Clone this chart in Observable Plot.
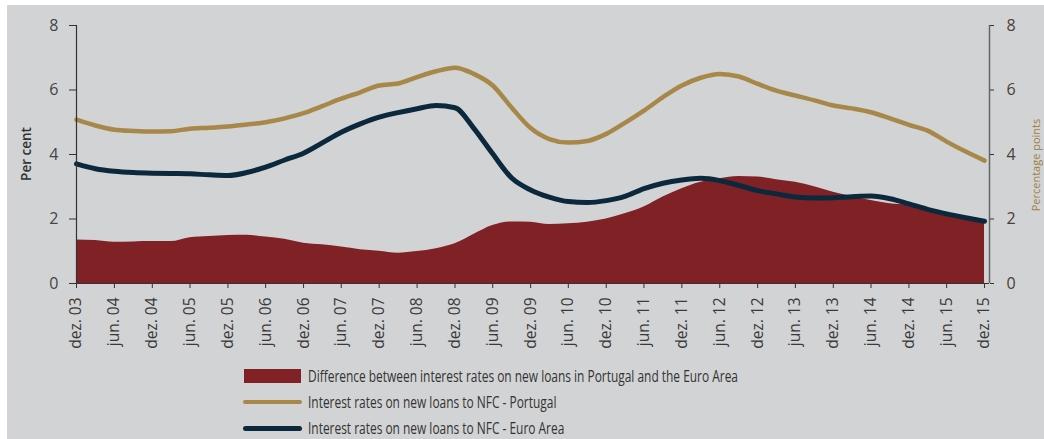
<!DOCTYPE html>
<html><head><meta charset="utf-8">
<script src="https://cdn.jsdelivr.net/npm/d3@7"></script>
<script src="https://cdn.jsdelivr.net/npm/@observablehq/plot@0.6"></script>
<style>
html,body{margin:0;padding:0;background:#fff;overflow:hidden;width:1044px;height:439px;position:relative}
#panel{position:absolute;left:7px;top:5px;width:1037px;height:434px;background:#d1d3d4}
#chart{position:absolute;left:0;top:0}
.lab{position:absolute;white-space:nowrap;font-family:"Open Sans",sans-serif;color:#333}
.leg{position:absolute;left:308px;font-family:"Open Sans",sans-serif;font-size:16px;color:#333;white-space:nowrap;line-height:18px;transform-origin:0 50%}
.sw{position:absolute}
</style>
</head><body>
<div id="panel"></div>
<div id="chart"></div>
<div class="lab" id="ylab" style="left:26px;top:154px;font-size:13.5px;font-weight:600;transform:translate(-50%,-50%) rotate(-90deg)">Per cent</div>
<div class="lab" id="y2lab" style="left:1035px;top:165px;font-size:11px;color:#a0803f;transform:translate(-50%,-50%) rotate(-90deg)">Percentage points</div>
<div class="sw" style="left:244px;top:369px;width:57px;height:14px;background:#802125"></div>
<div class="sw" style="left:243px;top:399.5px;width:59px;height:4px;border-radius:2px;background:#a88848"></div>
<div class="sw" style="left:243px;top:425.5px;width:59px;height:5px;border-radius:2.5px;background:#0b283c"></div>
<div class="leg" id="leg1" style="top:367px">Difference between interest rates on new loans in Portugal and the Euro Area</div>
<div class="leg" id="leg2" style="top:393px">Interest rates on new loans to NFC - Portugal</div>
<div class="leg" id="leg3" style="top:419px">Interest rates on new loans to NFC - Euro Area</div>
<script>
const months = ["2003-12","2004-03","2004-06","2004-09","2004-12","2005-03","2005-06","2005-09","2005-12","2006-03","2006-06","2006-09","2006-12","2007-03","2007-06","2007-09","2007-12","2008-03","2008-06","2008-09","2008-12","2009-03","2009-06","2009-09","2009-12","2010-03","2010-06","2010-09","2010-12","2011-03","2011-06","2011-09","2011-12","2012-03","2012-06","2012-09","2012-12","2013-03","2013-06","2013-09","2013-12","2014-03","2014-06","2014-09","2014-12","2015-03","2015-06","2015-09","2015-12"];
const portugal = [5.08,4.90,4.77,4.73,4.71,4.72,4.80,4.83,4.87,4.93,5.00,5.12,5.28,5.50,5.73,5.93,6.14,6.20,6.40,6.58,6.69,6.50,6.14,5.45,4.82,4.48,4.37,4.42,4.64,4.98,5.36,5.78,6.14,6.38,6.50,6.42,6.19,5.98,5.83,5.68,5.52,5.43,5.31,5.12,4.92,4.74,4.40,4.09,3.81];
const euroArea = [3.71,3.56,3.48,3.44,3.42,3.41,3.40,3.37,3.35,3.44,3.61,3.83,4.04,4.36,4.69,4.95,5.16,5.30,5.42,5.52,5.45,4.82,4.02,3.27,2.90,2.68,2.54,2.51,2.57,2.70,2.94,3.11,3.21,3.26,3.19,3.04,2.88,2.78,2.68,2.65,2.66,2.69,2.71,2.63,2.47,2.30,2.16,2.04,1.93];
const difference = [1.35,1.33,1.28,1.29,1.30,1.30,1.42,1.46,1.49,1.50,1.44,1.37,1.25,1.20,1.13,1.05,1.00,0.94,0.99,1.08,1.23,1.52,1.80,1.91,1.90,1.83,1.85,1.90,2.00,2.16,2.37,2.68,2.94,3.14,3.25,3.32,3.30,3.22,3.14,3.00,2.83,2.70,2.57,2.47,2.42,2.30,2.16,2.03,1.95];
const xTickDates = ["2003-12","2004-06","2004-12","2005-06","2005-12","2006-06","2006-12","2007-06","2007-12","2008-06","2008-12","2009-06","2009-12","2010-06","2010-12","2011-06","2011-12","2012-06","2012-12","2013-06","2013-12","2014-06","2014-12","2015-06","2015-12"];
const xTickLabels = ["dez. 03","jun. 04","dez. 04","jun. 05","dez. 05","jun. 06","dez. 06","jun. 07","dez. 07","jun. 08","dez. 08","jun. 09","dez. 09","jun. 10","dez. 10","jun. 11","dez. 11","jun. 12","dez. 12","jun. 13","dez. 13","jun. 14","dez. 14","jun. 15","dez. 15"];
const yTicks = [0,2,4,6,8];

const parse = d3.utcParse("%Y-%m");
const data = months.map((m,i)=>({date:parse(m), pt:portugal[i], ea:euroArea[i], diff:difference[i]}));
const tickDates = xTickDates.map(parse);
const labelMap = new Map(tickDates.map((d,i)=>[+d, xTickLabels[i]]));
const xDomain = [parse("2003-12"), new Date(Date.UTC(2015,11,25))];

const chart = Plot.plot({
  width:1044, height:360,
  marginLeft:76, marginRight:55, marginTop:25, marginBottom:77,
  style:{background:"transparent", fontFamily:"'Open Sans', sans-serif", color:"#333", overflow:"visible"},
  x:{type:"utc", domain:xDomain},
  y:{domain:[0,8]},
  marks:[
    Plot.areaY(data,{x:"date", y:"diff", fill:"#802125", curve:"monotone-x"}),
    Plot.lineY(data,{x:"date", y:"pt", stroke:"#a88848", strokeWidth:4.5, curve:"monotone-x"}),
    Plot.lineY(data,{x:"date", y:"ea", stroke:"#0b283c", strokeWidth:5, curve:"monotone-x"}),
    Plot.ruleX([xDomain[0]],{stroke:"#333", strokeWidth:1.2}),
    Plot.ruleX([xDomain[1]],{stroke:"#666", strokeWidth:1.5}),
    Plot.ruleY([0],{stroke:"#333", strokeWidth:1.2}),
    Plot.axisY(yTicks,{anchor:"left", tickSize:7, tickPadding:11, fontSize:16, fill:"#444", label:null}),
    Plot.axisY(yTicks,{anchor:"right", tickSize:4, tickPadding:13, fontSize:16, fill:"#4a4034", label:null}),
    Plot.axisX(tickDates,{anchor:"bottom", tickSize:5, tickPadding:9, tickRotate:-90, fontSize:15.5, fill:"#3a3a3a", tickFormat:d=>labelMap.get(+d), label:null})
  ]
});
document.getElementById("chart").appendChild(chart);

// compress the legend text horizontally to the condensed width seen in the reference
const leg1 = document.getElementById("leg1");
const s = 430 / leg1.getBoundingClientRect().width;
for (const id of ["leg1","leg2","leg3"]) document.getElementById(id).style.transform = `scaleX(${s})`;
</script>
</body></html>
